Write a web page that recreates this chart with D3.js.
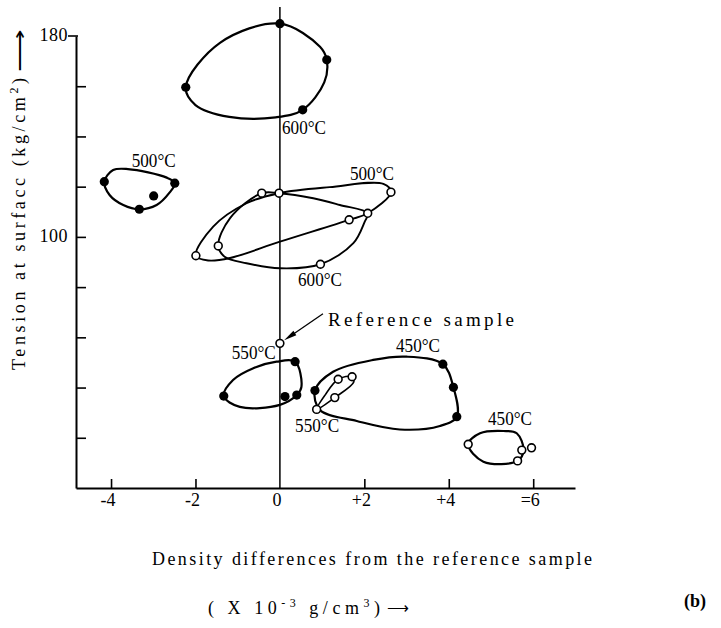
<!DOCTYPE html>
<html>
<head>
<meta charset="utf-8">
<script src="https://cdn.jsdelivr.net/npm/d3@7"></script>
<style>
  body { margin: 0; background: #fff; }
  svg text { font-family: "Liberation Serif", "Times New Roman", serif; fill: #000; }
</style>
</head>
<body>
<svg id="chart" width="721" height="628"></svg>
<script>
// Density difference from the reference sample (x 10^-3 g/cm^3) vs. surface tension (kg/cm^2)

// 600°C, filled markers (top group)
const filled600Points = [[0, 184.9], [1.11, 170.5], [0.54, 150.6], [-2.23, 159.6]];
const filled600Loop = [[0, 184.9], [0.95, 175.7], [1.11, 170.5], [1.05, 161.5], [0.54, 150.6],
  [-0.1, 147.6], [-1.2, 147.8], [-2.0, 152.5], [-2.23, 159.6], [-1.42, 177.3]];

// 500°C, filled markers (left group)
const filled500Points = [[-4.16, 122.0], [-2.49, 121.4], [-2.99, 116.3], [-3.33, 111.0]];
const filled500Loop = [[-4.16, 122.0], [-3.95, 126.6], [-3.6, 127.0], [-2.68, 123.6], [-2.49, 121.4],
  [-2.62, 117.5], [-2.92, 112.7], [-3.33, 111.0], [-3.71, 112.7], [-4.03, 116.6]];

// 500°C and 600°C, open markers (middle group)
const openMidPoints = [[-0.43, 117.4], [-0.02, 117.4], [2.63, 117.8], [2.08, 109.4],
  [1.64, 106.8], [-1.46, 96.4], [-1.99, 92.5], [0.96, 89.1]];
const open500Loop = [[-1.99, 92.5], [-1.58, 104.1], [-0.79, 113.4], [-0.02, 117.4], [1.18, 119.8],
  [2.45, 121.1], [2.63, 117.8], [2.08, 109.4], [1.64, 106.8], [0, 98.1], [-1.18, 91.6], [-1.7, 90.6]];
const open600Loop = [[-0.43, 117.4], [-0.02, 117.4], [0.79, 115.4], [1.42, 112.7], [2.08, 109.4],
  [2.01, 106.1], [1.74, 97.5], [0.96, 89.1], [0, 87.5], [-0.79, 89.5], [-1.3, 92.0], [-1.46, 96.4],
  [-1.18, 107.5]];

// Reference sample
const referencePoint = [0, 57.6];

// 550°C, filled markers
const filled550Points = [[0.36, 50.3], [0.40, 37.0], [0.12, 36.4], [-1.33, 36.6]];
const filled550Loop = [[-1.33, 36.6], [-1.11, 43.0], [-0.63, 47.7], [-0.08, 50.3], [0.36, 50.3],
  [0.51, 40.3], [0.40, 37.0], [0, 33.1], [-0.95, 32.3]];

// 450°C, filled markers
const filled450Points = [[0.83, 38.8], [3.86, 49.3], [4.11, 40.1], [4.19, 28.4]];
const filled450Loop = [[0.83, 38.8], [1.26, 46.3], [2.21, 51.0], [3.0, 52.3], [3.86, 49.3],
  [4.11, 40.1], [4.19, 28.4], [3.79, 24.7], [2.84, 23.3], [1.82, 26.7], [0.95, 31.1]];

// 550°C, open markers
const open550Points = [[0.87, 31.3], [1.30, 36.0], [1.38, 43.3], [1.71, 44.3]];
const open550Loop = [[0.87, 31.3], [1.07, 37.0], [1.38, 43.3], [1.71, 44.3], [1.75, 42.2], [1.30, 36.0]];

// 450°C, open markers
const open450Points = [[4.46, 17.4], [5.73, 15.1], [5.96, 16.0], [5.63, 10.8]];
const open450Loop = [[4.46, 17.4], [4.74, 21.8], [5.29, 22.7], [5.61, 21.8], [5.77, 15.1],
  [5.63, 10.8], [4.82, 10.5]];

// Temperature annotations, anchored at the start of the text (data units)
const tempLabels = [
  { text: "600°C", x: 0.05, y: 141.0 },
  { text: "500°C", x: -3.51, y: 127.8 },
  { text: "500°C", x: 1.66, y: 122.7 },
  { text: "600°C", x: 0.43, y: 80.4 },
  { text: "550°C", x: -1.14, y: 51.4 },
  { text: "450°C", x: 2.75, y: 54.2 },
  { text: "550°C", x: 0.36, y: 22.3 },
  { text: "450°C", x: 4.93, y: 25.1 }
];

// Axis ticks
const xTicks = [-4, -2, 0, 2, 4, 6];
const xTickLabels = ["-4", "-2", "0", "+2", "+4", "=6"];
const yTicks = [20, 40, 60, 80, 100, 120, 140, 160, 180];
const yTickLabels = ["", "", "", "", "100", "", "", "", "180"];

const svg = d3.select("#chart");

const x = d3.scaleLinear().domain([-4.83, 6.99]).range([76, 575]);
const y = d3.scaleLinear().domain([0, 180]).range([488, 36]);

const loopLine = d3.line()
  .x(d => x(d[0]))
  .y(d => y(d[1]))
  .curve(d3.curveCatmullRomClosed.alpha(0.5));

// Axes
const xAxis = d3.axisBottom(x)
  .tickValues(xTicks.filter(v => v !== 0))
  .tickSizeInner(-9).tickSizeOuter(0).tickFormat("");
const gx = svg.append("g").attr("transform", `translate(0,${y(0)})`).call(xAxis);
gx.select(".domain").attr("stroke-width", 2);
gx.selectAll(".tick line").attr("stroke-width", 1.6);

const yAxis = d3.axisLeft(y)
  .tickValues(yTicks.filter(v => v !== 180))
  .tickSizeInner(-10).tickSizeOuter(0).tickFormat("");
const gy = svg.append("g").attr("transform", `translate(${x(-4.83)},0)`).call(yAxis);
gy.select(".domain").attr("stroke-width", 2);
gy.selectAll(".tick line").attr("stroke-width", 1.6);

// top tick at 180 points outward
svg.append("line")
  .attr("x1", x(-4.83) - 8).attr("x2", x(-4.83) + 2)
  .attr("y1", y(180)).attr("y2", y(180))
  .attr("stroke", "#000").attr("stroke-width", 1.6);

// Tick labels
svg.append("g").selectAll("text").data(xTicks).join("text")
  .attr("x", d => x(d) - 3).attr("y", 506)
  .attr("text-anchor", "middle")
  .style("font-size", "18px")
  .text((d, i) => xTickLabels[i]);

svg.append("g").selectAll("text").data(yTicks).join("text")
  .attr("x", 68).attr("y", d => y(d)).attr("dy", "0.28em")
  .attr("text-anchor", "end")
  .style("font-size", "18px")
  .style("letter-spacing", "0.5px")
  .text((d, i) => yTickLabels[i]);

// Zero line
svg.append("line")
  .attr("x1", x(0)).attr("x2", x(0))
  .attr("y1", y(191.5)).attr("y2", y(0))
  .attr("stroke", "#000").attr("stroke-width", 1.5);

// Loops
const loops = [
  { data: filled600Loop, w: 2.2 },
  { data: filled500Loop, w: 2.2 },
  { data: open500Loop, w: 1.9 },
  { data: open600Loop, w: 1.9 },
  { data: filled550Loop, w: 2.2 },
  { data: filled450Loop, w: 2.2 },
  { data: open550Loop, w: 1.6 },
  { data: open450Loop, w: 2.2 }
];
svg.append("g").selectAll("path").data(loops).join("path")
  .attr("d", d => loopLine(d.data))
  .attr("fill", "none").attr("stroke", "#000")
  .attr("stroke-width", d => d.w)
  .attr("stroke-linejoin", "round");

// Reference sample arrow
const arrowFrom = [1.02, 69.4], arrowTo = [0.1, 58.8];
const ax0 = x(arrowFrom[0]), ay0 = y(arrowFrom[1]), ax1 = x(arrowTo[0]), ay1 = y(arrowTo[1]);
const ang = Math.atan2(ay1 - ay0, ax1 - ax0);
const hl = 13, hw = 2.6;
svg.append("line")
  .attr("x1", ax0).attr("y1", ay0).attr("x2", ax1 - Math.cos(ang) * 6).attr("y2", ay1 - Math.sin(ang) * 6)
  .attr("stroke", "#000").attr("stroke-width", 1.3);
svg.append("path")
  .attr("d", `M${ax1},${ay1}` +
    `L${ax1 - hl * Math.cos(ang) + hw * Math.sin(ang)},${ay1 - hl * Math.sin(ang) - hw * Math.cos(ang)}` +
    `L${ax1 - hl * Math.cos(ang) - hw * Math.sin(ang)},${ay1 - hl * Math.sin(ang) + hw * Math.cos(ang)}Z`)
  .attr("fill", "#000");

// Markers
const filledAll = [].concat(filled600Points, filled500Points, filled550Points, filled450Points);
const openAll = [].concat(openMidPoints, [referencePoint], open550Points, open450Points);

svg.append("g").selectAll("circle").data(filledAll).join("circle")
  .attr("cx", d => x(d[0])).attr("cy", d => y(d[1])).attr("r", 4.6)
  .attr("fill", "#000");

svg.append("g").selectAll("circle").data(openAll).join("circle")
  .attr("cx", d => x(d[0])).attr("cy", d => y(d[1])).attr("r", 3.9)
  .attr("fill", "#fff").attr("stroke", "#000").attr("stroke-width", 1.6);

// Temperature labels
svg.append("g").selectAll("text").data(tempLabels).join("text")
  .attr("x", d => x(d.x)).attr("y", d => y(d.y))
  .attr("textLength", 44).attr("lengthAdjust", "spacingAndGlyphs")
  .style("font-size", "18px")
  .text(d => d.text);

// Reference sample label
svg.append("text")
  .attr("x", x(1.14)).attr("y", y(64.5))
  .attr("textLength", 186).attr("lengthAdjust", "spacing")
  .style("font-size", "19px")
  .text("Reference sample");

// Y axis title
const yTitle = svg.append("text")
  .attr("transform", "translate(25,370) rotate(-90)")
  .attr("textLength", 292).attr("lengthAdjust", "spacing")
  .style("font-size", "18px");
yTitle.append("tspan").text("Tension at surfacc (kg/cm");
yTitle.append("tspan").attr("dy", -7).style("font-size", "12px").text("2");
yTitle.append("tspan").attr("dy", 7).text(")");
svg.append("text")
  .attr("transform", "translate(26,72) rotate(-90)")
  .attr("textLength", 42).attr("lengthAdjust", "spacingAndGlyphs")
  .style("font-size", "17px")
  .text("⟶");

// X axis title
svg.append("text")
  .attr("x", 152).attr("y", 565)
  .attr("textLength", 440).attr("lengthAdjust", "spacing")
  .style("font-size", "18px")
  .text("Density differences from the reference sample");

const xUnit = svg.append("text")
  .attr("x", 208).attr("y", 614)
  .attr("textLength", 172).attr("lengthAdjust", "spacing")
  .style("font-size", "18px");
xUnit.append("tspan").text("( X 10");
xUnit.append("tspan").attr("dy", -7).style("font-size", "12px").text("-3");
xUnit.append("tspan").attr("dy", 7).text(" g/cm");
xUnit.append("tspan").attr("dy", -7).style("font-size", "12px").text("3");
xUnit.append("tspan").attr("dy", 7).text(")");
svg.append("text")
  .attr("x", 387).attr("y", 613)
  .attr("textLength", 22).attr("lengthAdjust", "spacingAndGlyphs")
  .style("font-size", "16px")
  .text("⟶");

svg.append("text")
  .attr("x", 684).attr("y", 607)
  .style("font-size", "18px").style("font-weight", "bold")
  .text("(b)");
</script>
</body>
</html>
